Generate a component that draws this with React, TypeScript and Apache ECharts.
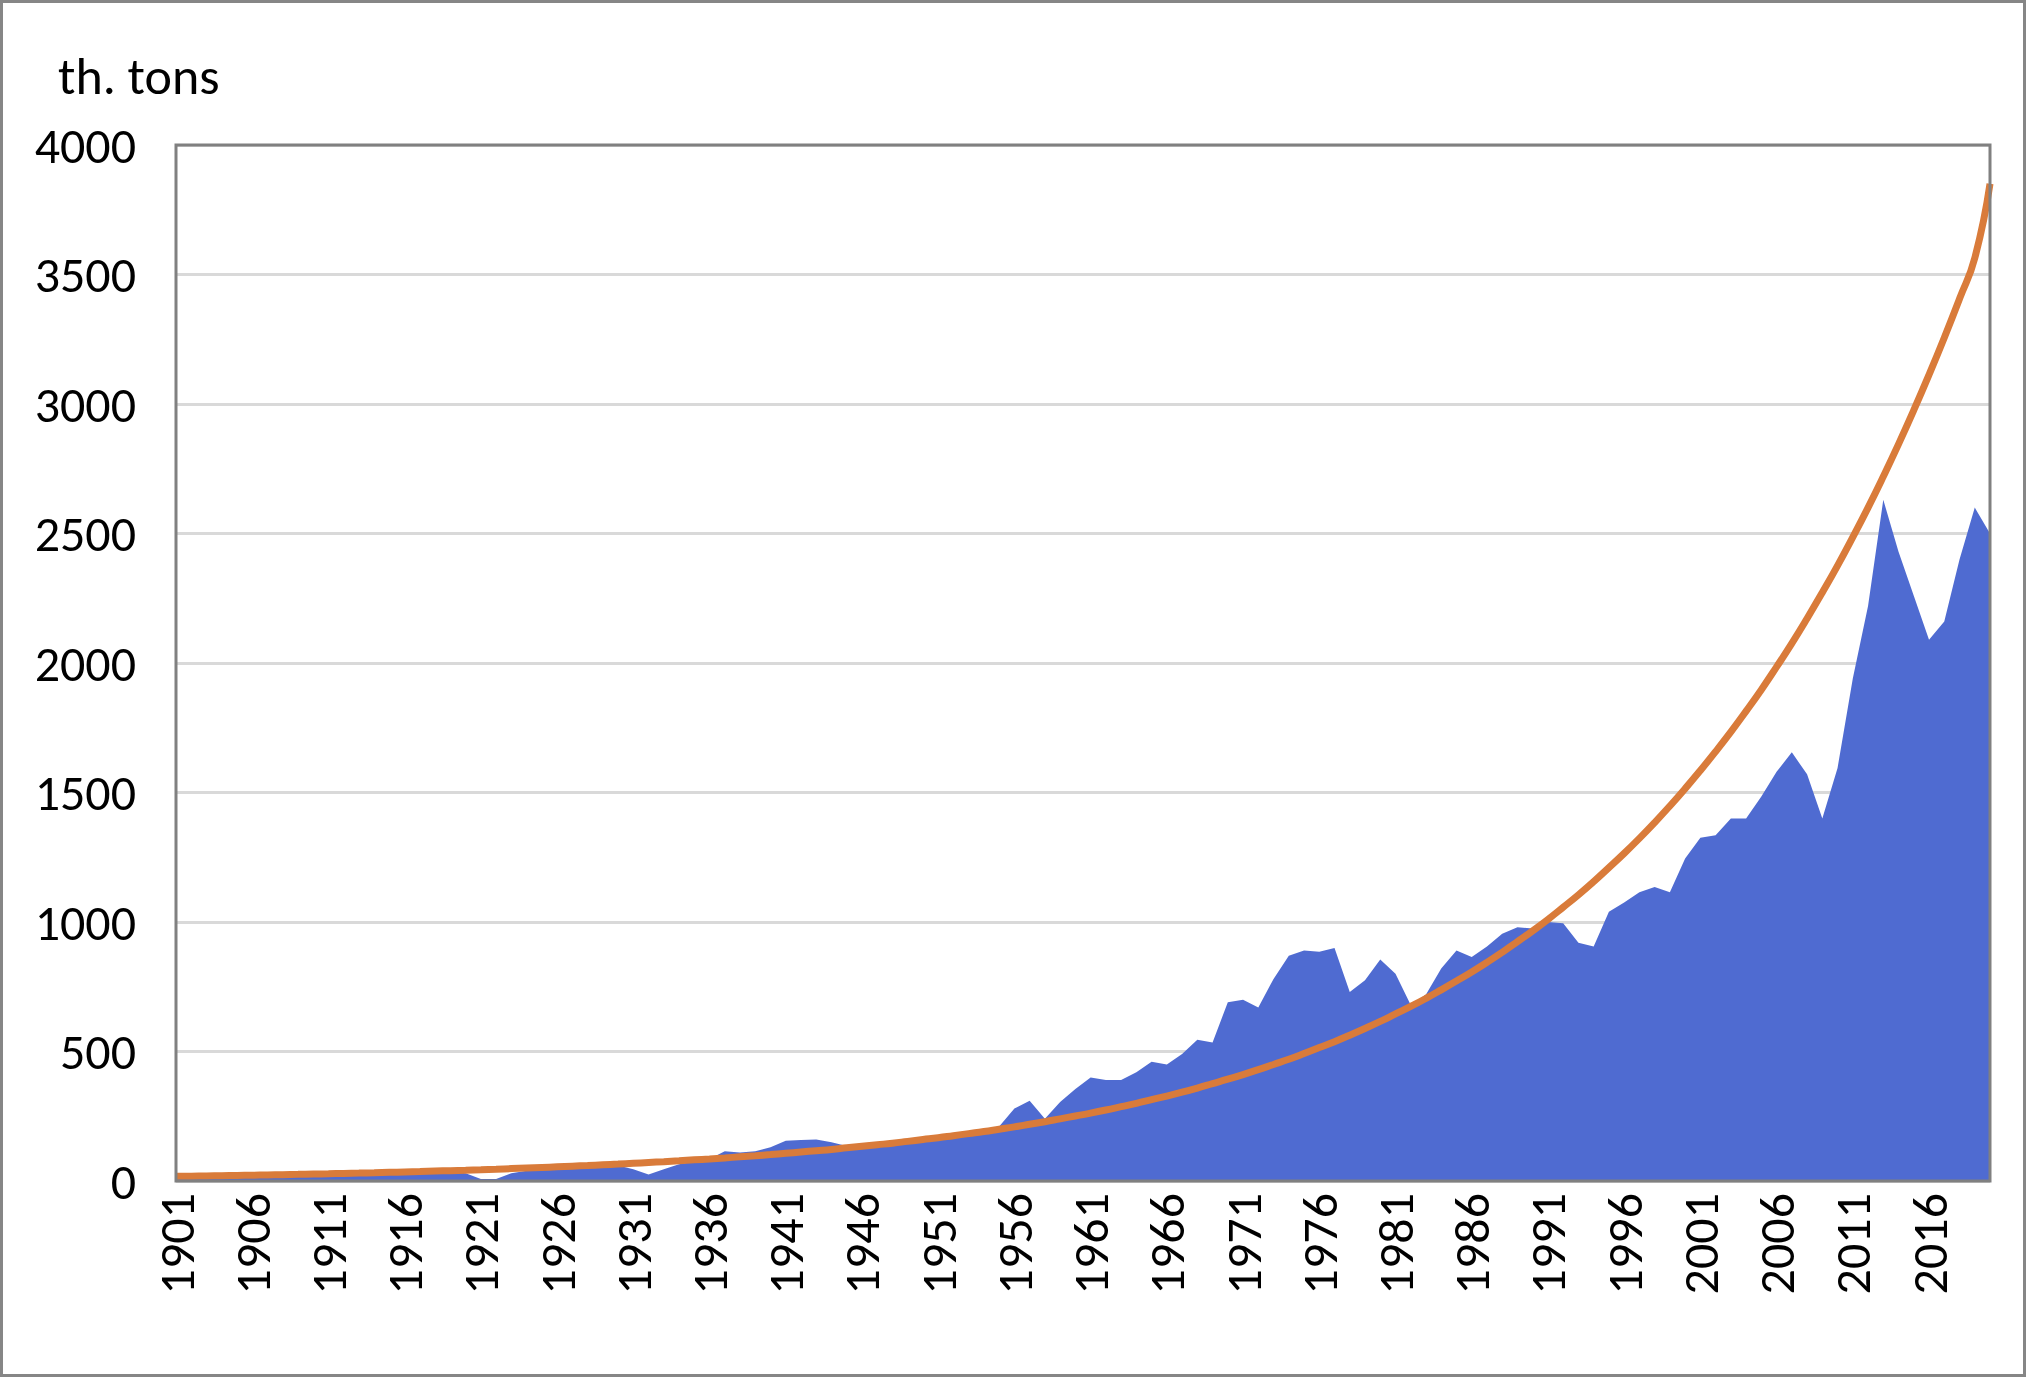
import { useEffect, useRef } from 'react';
import * as echarts from 'echarts';

const years: string[] = [];
for (let y = 1901; y <= 2020; y++) years.push(String(y));

const production = [
  15, 15, 18, 18, 20, 20, 22, 22, 24, 25,
  26, 28, 30, 28, 30, 32, 34, 34, 36, 30,
  8, 8, 30, 40, 45, 50, 52, 55, 60, 60,
  45, 25, 45, 65, 75, 85, 115, 110, 115, 130,
  155, 158, 160, 150, 135, 130, 135, 140, 150, 160,
  165, 170, 180, 190, 210, 280, 310, 240, 305, 355,
  400, 390, 390, 420, 460, 450, 490, 545, 535, 690,
  700, 670, 780, 870, 890, 885, 900, 730, 775, 855,
  800, 680, 720, 820, 890, 865, 905, 955, 980, 975,
  1000, 995, 920, 905, 1040, 1075, 1115, 1135, 1115, 1245,
  1325, 1335, 1400, 1400, 1485, 1580, 1655, 1570, 1400, 1595,
  1940, 2220, 2630, 2430, 2260, 2090, 2160, 2400, 2600, 2500,
];

const trend = [
  18, 18.8, 19.6, 20.5, 21.4, 22.4, 23.4, 24.5, 25.6, 26.8,
  28, 29.3, 30.6, 32, 33.5, 35, 36.6, 38.3, 40, 41.8,
  43.7, 45.7, 47.8, 50, 52.3, 54.7, 57.2, 59.8, 62.5, 65.3,
  68.3, 71.4, 74.6, 78, 81.6, 85.3, 89.2, 93.3, 97.5, 102,
  107, 112, 117, 122, 128, 134, 140, 146, 153, 160,
  167, 175, 183, 191, 200, 209, 219, 229, 240, 251,
  262, 274, 287, 300, 314, 328, 343, 359, 376, 393,
  411, 430, 450, 470, 492, 515, 538, 563, 589, 616,
  645, 674, 705, 738, 772, 807, 844, 883, 924, 966,
  1010, 1057, 1105, 1156, 1210, 1265, 1323, 1384, 1448, 1515,
  1585, 1658, 1734, 1814, 1897, 1985, 2076, 2172, 2272, 2376,
  2486, 2600, 2720, 2845, 2976, 3113, 3256, 3406, 3563, 3850,
];

export default function App() {
  const ref = useRef<HTMLDivElement>(null);

  useEffect(() => {
    if (!ref.current) return;
    const chart = echarts.init(ref.current, undefined, { renderer: 'svg' });
    const font = 'Calibri, Carlito, "Open Sans", "DejaVu Sans", sans-serif';
    chart.setOption({
      animation: false,
      backgroundColor: '#fff',
      textStyle: { fontFamily: font },
      graphic: [
        { type: 'rect', shape: { x: 1.5, y: 1.5, width: 2023, height: 1374 }, style: { fill: 'none', stroke: '#868686', lineWidth: 3 } },
        { type: 'rect', shape: { x: 176, y: 145, width: 1814, height: 1036 }, style: { fill: 'none', stroke: '#808080', lineWidth: 3 }, z: 10 },
        { type: 'text', x: 58, y: 50, style: { text: 'th. tons', font: `52px ${font}`, fill: '#000' } },
      ],
      grid: { left: 176, right: 36, top: 145, bottom: 196 },
      xAxis: {
        type: 'category',
        data: years,
        boundaryGap: false,
        axisLine: { show: false },
        axisTick: { show: false },
        axisLabel: { interval: 4, rotate: 90, fontSize: 50, color: '#000', margin: 12, fontFamily: font },
      },
      yAxis: {
        type: 'value',
        min: 0,
        max: 4000,
        interval: 500,
        axisLine: { show: false },
        axisTick: { show: false },
        axisLabel: { fontSize: 50, color: '#000', margin: 40, fontFamily: font, formatter: (v: number) => String(v) },
        splitLine: { lineStyle: { color: '#d9d9d9', width: 3 } },
      },
      series: [
        {
          type: 'line',
          data: production,
          symbol: 'none',
          lineStyle: { width: 0 },
          areaStyle: { color: '#4f6bd1', opacity: 1 },
          z: 2,
        },
        {
          type: 'line',
          data: trend,
          symbol: 'none',
          smooth: true,
          lineStyle: { color: '#d97b3a', width: 7 },
          z: 3,
        },
      ],
    });
    return () => chart.dispose();
  }, []);

  return <div ref={ref} style={{ position: 'absolute', left: 0, top: 0, width: 2026, height: 1377 }} />;
}
